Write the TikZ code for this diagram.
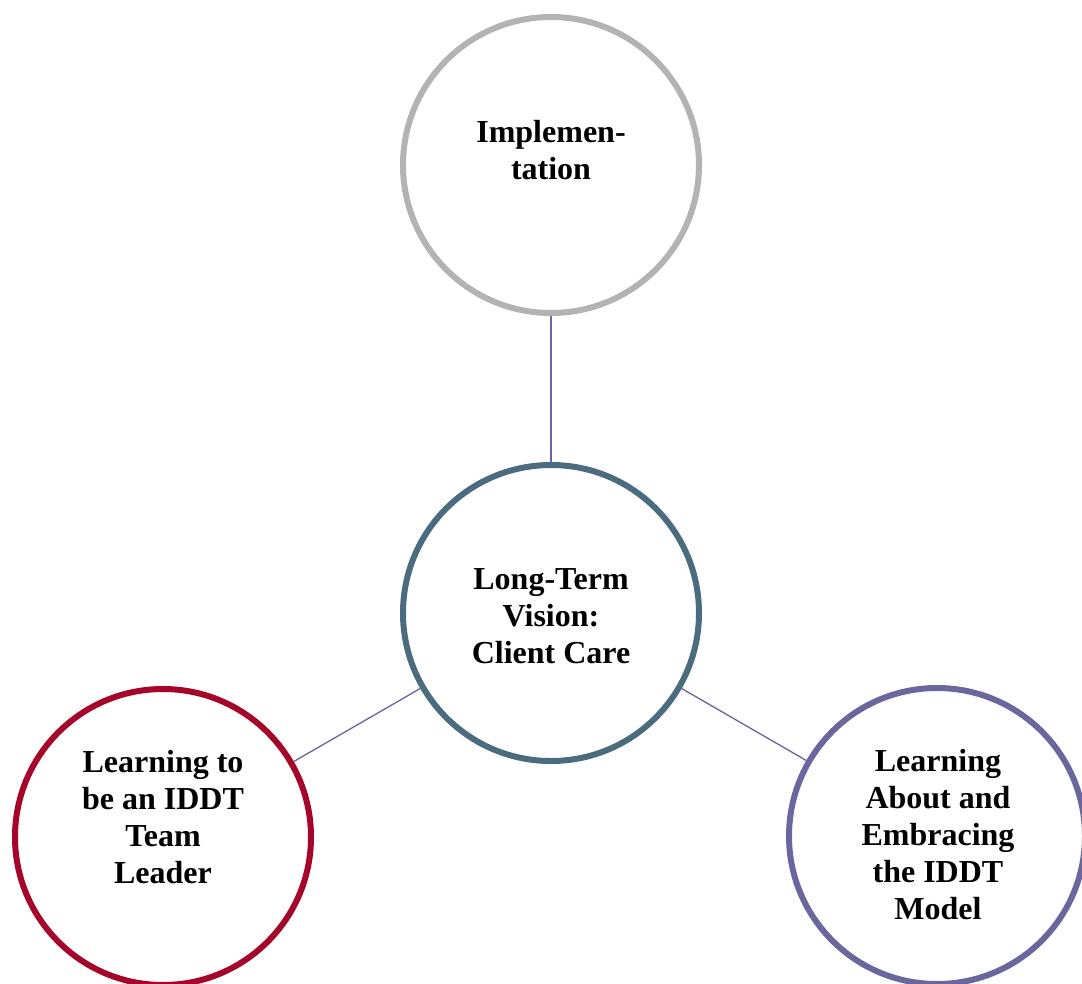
\documentclass[tikz,border=0pt]{standalone}
\usepackage{fontspec}
\setmainfont{Liberation Serif}
\usepackage{tikz}

\definecolor{cinza}{HTML}{B3B3B3}
\definecolor{azulado}{HTML}{4B6B7E}
\definecolor{vinho}{HTML}{A6052A}
\definecolor{roxo}{HTML}{6A679E}

\begin{document}
\begin{tikzpicture}[x=0.75pt, y=-0.75pt,
    roda/.style={circle, draw=#1, line width=4.5pt, minimum size=222pt, inner sep=0pt},
    rotulo/.style={align=center, font=\fontsize{24}{27.75}\selectfont\bfseries},
    liga/.style={draw=roxo, line width=1pt}]

    \useasboundingbox (0,0) rectangle (1082,983);
    \clip (0,0) rectangle (1082,983);

    % Coordenadas em pixels: 1px = 0.75pt, eixo y para baixo.
    \node[roda=cinza] (impl) at (551,165) {};
    \node[roda=azulado] (visao) at (551,613) {};
    \node[roda=vinho] (lider) at (163,837) {};
    \node[roda=roxo] (modelo) at (937,836) {};

    \node[rotulo] (tImpl) at (551,150) {Implemen-\\tation};
    \node[rotulo] (tVisao) at (551,616) {Long-Term\\Vision:\\Client Care};
    \node[rotulo] (tLider) at (163,817) {Learning to\\be an IDDT\\Team\\Leader};
    \node[rotulo] (tModelo) at (938,835) {Learning\\About and\\Embracing\\the IDDT\\Model};

    \draw[liga] (impl) -- (visao);
    \draw[liga] (visao) -- (lider);
    \draw[liga] (visao) -- (modelo);

\end{tikzpicture}
\end{document}
